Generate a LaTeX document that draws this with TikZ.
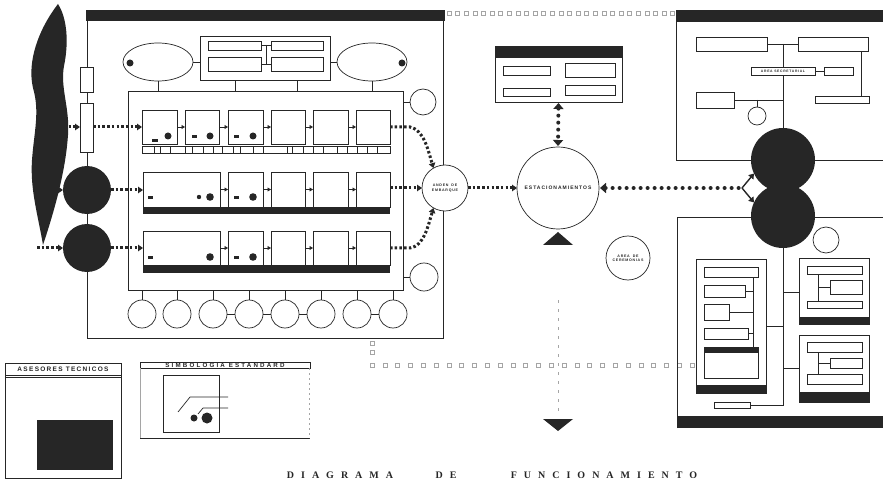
\documentclass[tikz,border=0pt]{standalone}
\usepackage{fontspec}
\setmainfont{Liberation Serif}
\newfontfamily\lab[LetterSpace=20]{Liberation Sans}
\newfontfamily\labw[LetterSpace=35]{Liberation Sans}
\newfontfamily\ttl[LetterSpace=70]{Liberation Serif}
\usetikzlibrary{arrows.meta,fit,shapes.geometric,calc}
\definecolor{ink}{RGB}{38,38,38}
\definecolor{faint}{RGB}{165,165,165}
\tikzset{
 ln/.style={draw=ink,line width=0.7pt},
 bx/.style={draw=ink,line width=0.7pt,fill=white,inner sep=0pt,outer sep=0pt},
 ring/.style={circle,draw=ink,line width=0.7pt,fill=white,inner sep=0pt,outer sep=0pt,minimum size=#1},
 disc/.style={circle,fill=ink,inner sep=0pt,outer sep=0pt,minimum size=#1},
 dots/.style={draw=ink,line width=3pt,dash pattern=on 2.5pt off 2.2pt},
 rdots/.style={draw=ink,line width=4pt,line cap=round,dash pattern=on 0pt off 7pt},
 tri/.tip={Triangle[length=5pt,width=6.5pt]},
 stri/.tip={Triangle[length=3.5pt,width=4pt]},
 btri/.tip={Triangle[length=6pt,width=10pt]},
 lab/.style={font=\lab\bfseries\fontsize{3.6}{4.3}\selectfont,text=ink,align=center,inner sep=0pt},
 sq/.style={draw=faint,line width=0.6pt},
}
\newcommand\rbox[6][]{\node[bx,#1,fit={(#3,#4) (#5,#6)}] (#2) {};}
\begin{document}
\begin{tikzpicture}[x=1pt,y=-1pt]
\useasboundingbox (0,0) rectangle (883,486);
\fill[white] (0,0) rectangle (883,486);

% ---------- left wavy shape
\fill[ink] (58,4) .. controls (67,18) and (69,42) .. (64,66) .. controls (60,88) and (70,108) .. (68,135)
  .. controls (66,165) and (58,200) .. (43,245) .. controls (38,215) and (30,190) .. (32,160)
  .. controls (34,132) and (40,112) .. (33,88) .. controls (27,62) and (38,30) .. (58,4) -- cycle;

% ---------- outer frame
\fill[ink] (86,10) rectangle (445,21);
\draw[ln] (87,21) -- (87,338) -- (443,338) -- (443,21);

% top squares line
\foreach \i in {0,...,26} \draw[sq] ({447+\i*8.6},11) rectangle ++(4,4);

% ---------- top group
\draw[ln] (158,62) -- (372,62);
\draw[ln] (158,80) -- (158,91);
\draw[ln] (372,80) -- (372,91);
\draw[ln] (235,71) -- (235,91);
\draw[ln] (297,71) -- (297,91);
\node[ellipse,draw=ink,line width=0.7pt,fill=white,minimum width=70pt,minimum height=38pt,inner sep=0pt] (el1) at (158,62) {};
\node[ellipse,draw=ink,line width=0.7pt,fill=white,minimum width=70pt,minimum height=38pt,inner sep=0pt] (el2) at (372,62) {};
\node[disc=7pt] at (130,63) {};
\node[disc=7pt] at (402,63) {};
\rbox{mr}{200}{36}{330}{80}
\draw[ln] (261,45) -- (271,45);
\draw[ln] (261,64) -- (271,64);
\draw[ln] (266,45) -- (266,64);
\rbox{m1}{208}{41}{261}{50}
\rbox{m2}{271}{41}{323}{50}
\rbox{m3}{208}{57}{261}{71}
\rbox{m4}{271}{57}{323}{71}

% ---------- inner frame
\rbox[fill=none]{if}{128}{91}{403}{290}

% row 1
\foreach \n/\a/\b in {a/142/177,b/185/219,c/228/263,d/271/305,e/313/348,f/356/390} {\rbox{r1\n}{\a}{110}{\b}{144}}
\rbox{strip}{142}{146}{390}{153}
\foreach \x in {154,160,170,185,192,203,213,222,233,240,253,263,287,292,303,313,323,337,347,357,367,377} \draw[ln] (\x,146) -- (\x,153);
\foreach \p/\q in {a/b,b/c,c/d,d/e,e/f} \draw[ln,-stri] (r1\p.east) -- (r1\q.west);
\fill[ink] (168,136) circle (3.5); \fill[ink] (152,139) rectangle (158,142);
\fill[ink] (210,136) circle (3.5); \fill[ink] (192,135) rectangle (197,138);
\fill[ink] (253,136) circle (3.5); \fill[ink] (234,135) rectangle (239,138);

% row 2
\foreach \n/\a/\b in {a/143/220,b/228/263,c/271/305,d/313/348,e/356/390} {\rbox{r2\n}{\a}{172}{\b}{207}}
\fill[ink] (143,207) rectangle (390,214);
\foreach \p/\q in {a/b,b/c,c/d,d/e} \draw[ln,-stri] (r2\p.east) -- (r2\q.west);
\fill[ink] (210,197) circle (3.8); \fill[ink] (199,197) circle (2.2); \fill[ink] (148,196) rectangle (153,199);
\fill[ink] (253,197) circle (3.8); \fill[ink] (234,196) rectangle (239,199);

% row 3
\foreach \n/\a/\b in {a/143/220,b/228/263,c/271/305,d/313/348,e/356/390} {\rbox{r3\n}{\a}{231}{\b}{265}}
\fill[ink] (143,265) rectangle (390,273);
\foreach \p/\q in {a/b,b/c,c/d,d/e} \draw[ln,-stri] (r3\p.east) -- (r3\q.west);
\fill[ink] (210,257) circle (3.8); \fill[ink] (148,256) rectangle (153,259);
\fill[ink] (253,257) circle (3.8); \fill[ink] (234,256) rectangle (239,259);

% side circles of inner frame
\node[ring=26pt] (c1) at (423,102) {};
\draw[ln] (403,102) -- (c1.west);
\node[ring=28pt] (c2) at (424,277) {};
\draw[ln] (403,277) -- (c2.west);

% bottom circles
\foreach \x [count=\k] in {142,177,213,249,285,321,357,393} {
  \draw[ln] (\x,290) -- (\x,300);
  \node[ring=28pt] (bc\k) at (\x,314) {};
}
\draw[ln] (bc3.east) -- (bc4.west);
\draw[ln] (bc4.east) -- (bc5.west);
\draw[ln] (bc5.east) -- (bc6.west);
\draw[ln] (bc7.east) -- (bc8.west);

% left small rectangles & circles
\rbox{sr1}{80}{67}{93}{92}
\rbox{sr2}{80}{103}{93}{152}
\node[disc=48pt] (lc1) at (87,190) {};
\node[disc=48pt] (lc2) at (87,248) {};

% dotted flows into rows
\coordinate (in1) at (64,127);
\coordinate (in2) at (47,190);
\coordinate (in3) at (37,248);
\draw[dots,-tri] (in1) -- (sr2.west |- in1);
\draw[dots,-tri] (sr2.east |- in1) -- (r1a.west |- in1);
\draw[dots,-tri] (in2) -- (lc1.west);
\draw[dots,-tri] (lc1.east) -- (r2a.west |- lc1.east);
\draw[dots,-tri] (in3) -- (lc2.west);
\draw[dots,-tri] (lc2.east) -- (r3a.west |- lc2.east);

% anden de embarque
\node[ring=46pt] (anden) at (445,188) {};
\node[lab] at (anden) {ANDEN\hspace{3pt}DE\\EMBARQUE};
\draw[dots,-tri] (r1f.east) -- (410,127) .. controls (424,130) and (428,150) .. (anden.120);
\draw[dots,-tri] (r2e.east |- anden.west) -- (anden.west);
\draw[dots,-tri] (r3e.east) -- (410,248) .. controls (424,246) and (428,226) .. (anden.240);

% estacionamientos
\node[ring=82pt] (est) at (558,188) {};
\node[font=\lab\bfseries\fontsize{5}{6}\selectfont,text=ink,inner sep=0pt] at (est) {ESTACIONAMIENTOS};
\draw[dots,-tri] (anden.east) -- (est.west);

% top middle box
\rbox{tb}{495}{46}{622}{102}
\fill[ink] (495,46) rectangle (622,58);
\rbox{t1}{503}{66}{550}{75}
\rbox{t2}{565}{63}{615}{77}
\rbox{t3}{503}{88}{550}{96}
\rbox{t4}{565}{85}{615}{95}
\draw[rdots,btri-btri,shorten <=1pt,shorten >=1pt] (tb.south) -- (est.north);

% arrows below est
\fill[ink] (543,245) -- (558,232) -- (573,245) -- cycle;
\draw[faint,line width=0.8pt,dash pattern=on 3pt off 6pt] (558,300) -- (558,415);
\fill[ink] (543,419) -- (573,419) -- (558,431) -- cycle;

% ceremonias
\node[ring=44pt] (cer) at (628,258) {};
\node[lab] at (cer) {AREA\hspace{3pt}DE\\CEREMONIAS};

% bottom squares lines
\foreach \i in {0,...,25} \draw[sq] ({370+\i*12.8},363) rectangle ++(4,4);
\foreach \y in {341,350} \draw[sq] (370,\y) rectangle ++(4,4);

% ---------- right upper frame
\draw[ln] (676,22) -- (676,160) -- (890,160);
\fill[ink] (676,10) rectangle (883,22);
\draw[ln] (767,44) -- (798,44);
\draw[ln] (783,44) -- (783,140);
\draw[ln] (815,71) -- (824,71);
\draw[ln] (861,51) -- (861,96);
\draw[ln] (734,100) -- (783,100);
\draw[ln] (757,100) -- (757,108);
\rbox{ru1}{696}{37}{767}{51}
\rbox{ru2}{798}{37}{868}{51}
\rbox{ru3}{751}{67}{815}{75}
\node[lab,font=\lab\bfseries\fontsize{3.4}{4}\selectfont] at (ru3) {AREA SECRETARIAL};
\rbox{ru4}{824}{67}{853}{75}
\rbox{ru5}{815}{96}{869}{103}
\rbox{ru6}{696}{92}{734}{108}
\node[ring=18pt] (ruc) at (757,116) {};

% ---------- right lower frame
\draw[ln] (677,428) -- (677,217) -- (890,217);
\fill[ink] (677,416) rectangle (883,428);
\draw[ln] (783,240) -- (783,405) -- (750,405);
\draw[ln] (766,326) -- (783,326);
\draw[ln] (783,292) -- (799,292);
\draw[ln] (783,368) -- (799,368);
\rbox{rl0}{714}{402}{750}{408}
\node[ring=26pt] (rlc) at (826,240) {};
% tall box
\rbox{tall}{696}{259}{766}{393}
\fill[ink] (696,385) rectangle (766,393);
\draw[ln] (753,272) -- (753,347);
\draw[ln] (745,291) -- (753,291);
\draw[ln] (729,312) -- (753,312);
\draw[ln] (748,333) -- (753,333);
\rbox{ta}{704}{267}{758}{277}
\rbox{tbb}{704}{285}{745}{297}
\rbox{tc}{704}{304}{729}{320}
\rbox{td}{704}{328}{748}{339}
\rbox{te}{704}{347}{758}{378}
\fill[ink] (704,347) rectangle (758,353);
% right boxes
\rbox{rb1}{799}{258}{869}{324}
\fill[ink] (799,317) rectangle (869,324);
\draw[ln] (818,274) -- (818,301);
\draw[ln] (818,287) -- (830,287);
\rbox{rb1a}{807}{266}{862}{274}
\rbox{rb1b}{830}{280}{862}{294}
\rbox{rb1c}{807}{301}{862}{308}
\rbox{rb2}{799}{335}{869}{402}
\fill[ink] (799,392) rectangle (869,402);
\draw[ln] (818,352) -- (818,374);
\draw[ln] (818,363) -- (830,363);
\rbox{rb2a}{807}{342}{862}{352}
\rbox{rb2b}{830}{358}{862}{368}
\rbox{rb2c}{807}{374}{862}{384}

% black circles right
\node[disc=64pt] (bk1) at (783,160) {};
\node[disc=64pt] (bk2) at (783,216) {};
\coordinate (fork) at (742,188);
\draw[rdots,btri-,shorten <=1pt] (est.east) -- (fork);
\draw[ln,line width=1.4pt,-tri] (fork) -- (bk1.205);
\draw[ln,line width=1.4pt,-tri] (fork) -- (bk2.155);

% ---------- bottom left: asesores
\rbox{ase}{5}{363}{121}{478}
\rbox{aseh}{5}{363}{121}{375}
\draw[ln] (5,377) -- (121,377);
\node[font=\lab\bfseries\fontsize{6.5}{7}\selectfont,text=ink,inner sep=0pt] at (aseh) {ASESORES TECNICOS};
\fill[ink] (37,420) rectangle (113,470);

% simbologia
\rbox{symh}{140}{362}{310}{368}
\node[font=\labw\bfseries\fontsize{6.2}{7}\selectfont,text=ink,inner sep=0pt] at (symh) {SIMBOLOGIA ESTANDARD};
\draw[ln] (140,438) -- (310,438);
\draw[faint,line width=0.5pt] (140,368) -- (140,438);
\draw[faint,line width=0.5pt,dash pattern=on 2pt off 3pt] (309,368) -- (309,438);
\rbox[fill=none]{symi}{163}{375}{219}{432}
\draw[ln] (178,412) -- (190,397) -- (228,397);
\draw[ln] (198,414) -- (203,408) -- (228,408);
\fill[ink] (194,418) circle (3.5);
\fill[ink] (207,418) circle (5.5);

% title
\node[font=\ttl\bfseries\fontsize{10}{12}\selectfont,text=ink,inner sep=0pt] at (340,475) {DIAGRAMA};
\node[font=\ttl\bfseries\fontsize{10}{12}\selectfont,text=ink,inner sep=0pt] at (446,475) {DE};
\node[font=\ttl\bfseries\fontsize{10}{12}\selectfont,text=ink,inner sep=0pt] at (604,475) {FUNCIONAMIENTO};
\end{tikzpicture}
\end{document}
